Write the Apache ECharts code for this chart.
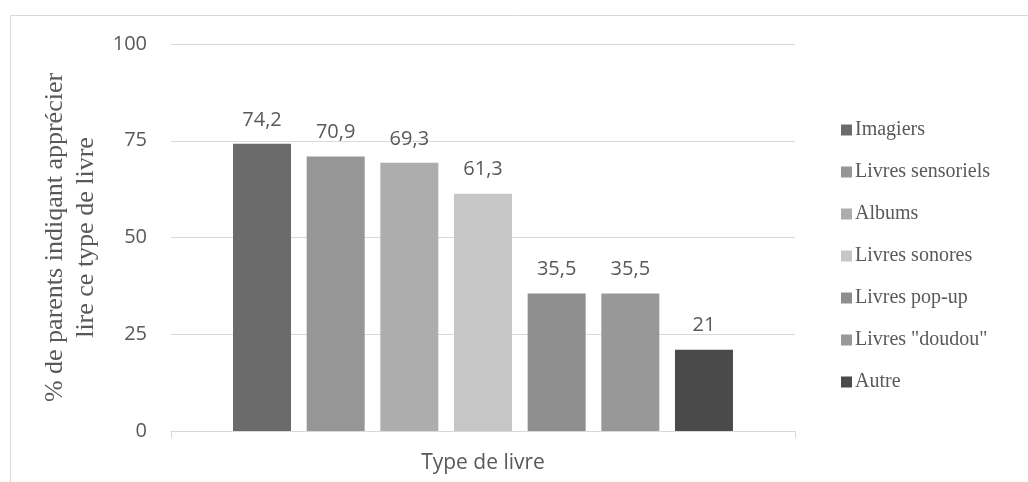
<!DOCTYPE html>
<html>
<head>
<meta charset="utf-8">
<script src="https://cdn.jsdelivr.net/npm/echarts@6/dist/echarts.min.js"></script>
<style>
  html, body { margin: 0; padding: 0; background: #fff; }
  #chart { width: 1028px; height: 482px; }
</style>
</head>
<body>
<div id="chart"></div>
<script>
// Book types and share of parents reporting reading each type (%)
const bookTypes = ['Imagiers', 'Livres sensoriels', 'Albums', 'Livres sonores', 'Livres pop-up', 'Livres "doudou"', 'Autre'];
const shares = [74.2, 70.9, 69.3, 61.3, 35.5, 35.5, 21];
const barColors = ['#6b6b6b', '#969696', '#adadad', '#c6c6c6', '#8f8f8f', '#989898', '#4a4a4a'];
const yTicks = [0, 25, 50, 75, 100];
const category = [''];

const chart = echarts.init(document.getElementById('chart'));

const series = bookTypes.map((name, i) => ({
  name: name,
  type: 'bar',
  data: [shares[i]],
  barWidth: 58,
  barGap: '27%',
  itemStyle: { color: barColors[i] },
  label: {
    show: true,
    position: 'top',
    distance: 14,
    color: '#595959',
    fontFamily: 'Open Sans',
    fontSize: 20,
    formatter: p => String(p.value).replace('.', ',')
  }
}));

chart.setOption({
  animation: false,
  graphic: [{
    type: 'rect',
    shape: { x: 10.5, y: 15.5, width: 1030, height: 480 },
    style: { fill: 'none', stroke: '#d9d9d9', lineWidth: 1 },
    silent: true
  }],
  grid: { left: 171, right: 233, top: 44, bottom: 51, containLabel: false, outerBoundsMode: 'none' },
  legend: {
    orient: 'vertical',
    left: 836,
    top: 115,
    itemWidth: 11,
    itemHeight: 11,
    itemGap: 22,
    icon: 'rect',
    data: bookTypes,
    textStyle: { fontFamily: 'Liberation Serif', fontSize: 20, color: '#595959', padding: [0, 0, 0, -2] }
  },
  xAxis: {
    type: 'category',
    data: category,
    name: 'Type de livre',
    nameLocation: 'middle',
    nameGap: 22,
    nameTextStyle: { fontFamily: 'Open Sans', fontSize: 21, color: '#595959', verticalAlign: 'top' },
    axisLine: { lineStyle: { color: '#d9d9d9', width: 1 } },
    axisTick: { show: true, length: 7, lineStyle: { color: '#d9d9d9' } },
    axisLabel: { show: false }
  },
  yAxis: {
    type: 'value',
    min: yTicks[0],
    max: yTicks[yTicks.length - 1],
    interval: 25,
    name: '% de parents indiqant apprécier\nlire ce type de livre',
    nameLocation: 'middle',
    nameGap: 66,
    nameRotate: 90,
    nameTextStyle: { fontFamily: 'Liberation Serif', fontSize: 26, color: '#595959', lineHeight: 31, align: 'center' },
    axisLine: { show: false },
    axisTick: { show: false },
    axisLabel: { margin: 24, fontFamily: 'Open Sans', fontSize: 20, color: '#595959' },
    splitLine: { lineStyle: { color: '#d9d9d9', width: 1 } }
  },
  series: series
});
</script>
</body>
</html>
